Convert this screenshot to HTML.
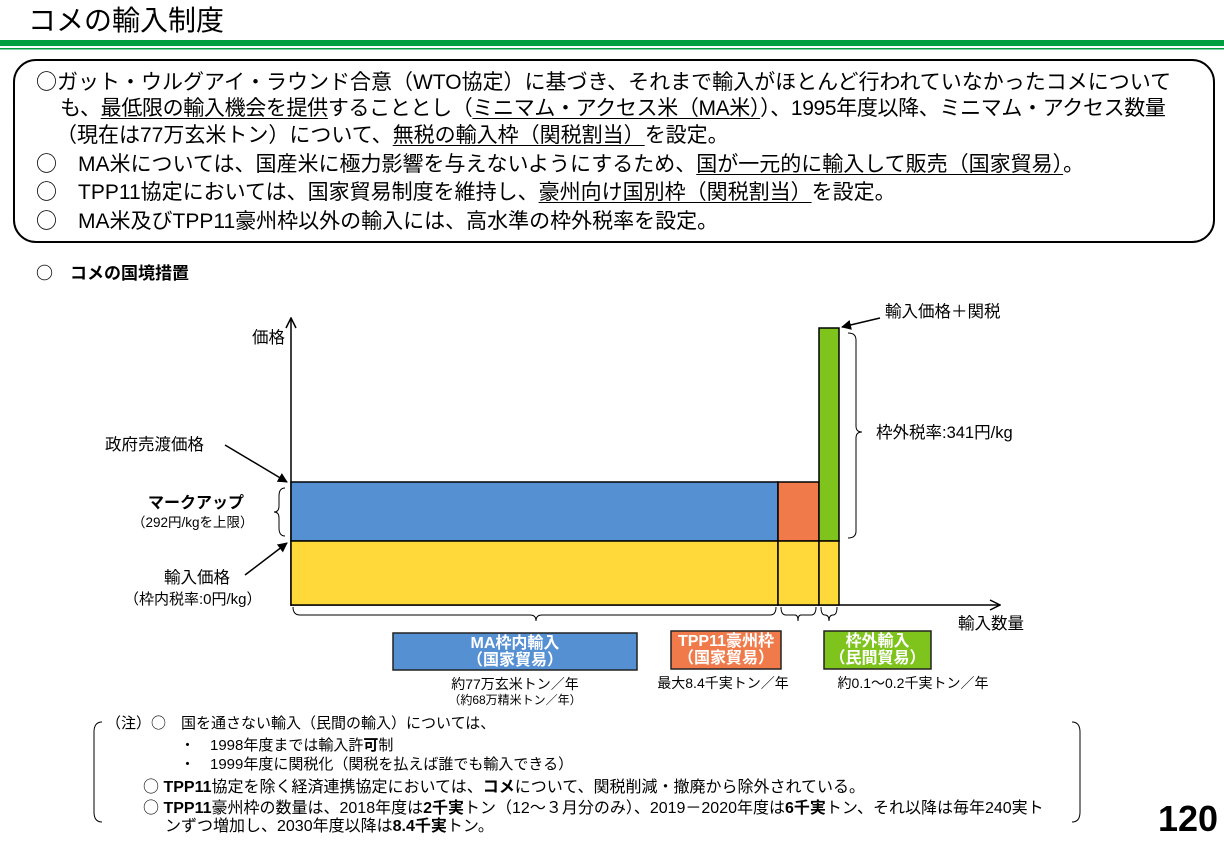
<!DOCTYPE html>
<html><head><meta charset="utf-8"><style>
body{margin:0;background:#fff;}
#p{position:relative;width:1224px;height:844px;overflow:hidden;font-family:"Liberation Sans","Noto Sans CJK JP",sans-serif;color:#000;}
.t{position:absolute;white-space:nowrap;line-height:1;}
.bx{font-size:21px;}
.c{font-family:"Noto Sans CJK JP",sans-serif;}
u{text-decoration:underline;text-underline-offset:3px;text-decoration-thickness:1px;}
.n{font-size:15px;}
.n2{font-size:16px;}
.lb{font-size:16.5px;}
.wb{color:#fff;font-weight:bold;font-size:16px;text-align:center;line-height:17px;}
</style></head><body><div id="p">
<svg width="1224" height="844" style="position:absolute;left:0;top:0">
<defs><marker id="a" markerWidth="10" markerHeight="10" refX="9" refY="5" orient="auto" markerUnits="userSpaceOnUse"><path d="M0,0 L10,5 L0,10 z" fill="#000"/></marker>
<marker id="o" markerWidth="12" markerHeight="12" refX="11" refY="6" orient="auto" markerUnits="userSpaceOnUse"><path d="M1,1 L11,6 L1,11" fill="none" stroke="#000" stroke-width="1.5"/></marker></defs>
<rect x="0" y="40" width="1224" height="6" fill="#00a040"/>
<rect x="0" y="48" width="1224" height="1.5" fill="#00a040"/>
<rect x="14" y="60" width="1200" height="182" rx="22" fill="none" stroke="#000" stroke-width="2"/>
<line x1="291" y1="606" x2="291" y2="318" stroke="#000" stroke-width="1.5" marker-end="url(#o)"/>
<line x1="291" y1="605" x2="1000" y2="605" stroke="#000" stroke-width="1.5" marker-end="url(#o)"/>
<rect x="291" y="482" width="487" height="59" fill="#5590d3" stroke="#000" stroke-width="1.5"/>
<rect x="778" y="482" width="41" height="59" fill="#f07a4a" stroke="#000" stroke-width="1.5"/>
<rect x="819" y="328" width="20" height="213" fill="#7ec41c" stroke="#000" stroke-width="1.5"/>
<rect x="291" y="541" width="487" height="64" fill="#ffd83a" stroke="#000" stroke-width="1.5"/>
<rect x="778" y="541" width="41" height="64" fill="#ffd83a" stroke="#000" stroke-width="1.5"/>
<rect x="819" y="541" width="20" height="64" fill="#ffd83a" stroke="#000" stroke-width="1.5"/>
<line x1="225" y1="445" x2="287" y2="482" stroke="#000" stroke-width="1.5" marker-end="url(#a)"/>
<line x1="245" y1="575" x2="287" y2="543" stroke="#000" stroke-width="1.5" marker-end="url(#a)"/>
<line x1="880" y1="318" x2="842" y2="327" stroke="#000" stroke-width="1.5" marker-end="url(#a)"/>
<path d="M285,488 Q279,488 279,496 L279,506 Q279,512 274,512 Q279,512 279,518 L279,528 Q279,536 285,536" fill="none" stroke="#000" stroke-width="1"/>
<path d="M848,333 Q856,333 856,340 L856,426 Q856,432 862,432 Q856,432 856,438 L856,531 Q856,538 848,538" fill="none" stroke="#000" stroke-width="1"/>
<path d="M293,607 Q293,615 300,615 L530,615 Q536,615 536,621 Q536,615 542,615 L770,615 Q776,615 776,607" fill="none" stroke="#000" stroke-width="1"/>
<path d="M781,607 Q781,615 786,615 L795,615 Q798,615 798,621 Q798,615 801,615 L811,615 Q816,615 816,607" fill="none" stroke="#000" stroke-width="1"/>
<path d="M821,607 Q821,615 825,615 Q829,615 829,621 Q829,615 833,615 Q837,615 837,607" fill="none" stroke="#000" stroke-width="1"/>
<rect x="393" y="633" width="244" height="37" fill="#5590d3" stroke="#222" stroke-width="1.5"/>
<rect x="671" y="631" width="110" height="38" fill="#f07a4a" stroke="#222" stroke-width="1.5"/>
<rect x="824" y="631" width="107" height="38" fill="#7ec41c" stroke="#222" stroke-width="1.5"/>
<path d="M102,722 Q94,722 94,732 L94,812 Q94,822 102,822" fill="none" stroke="#000" stroke-width="1"/>
<path d="M1072,722 Q1080,722 1080,732 L1080,812 Q1080,822 1072,822" fill="none" stroke="#000" stroke-width="1"/>
</svg>
<div class="t" style="left:28px;top:7px;font-size:28px;">コメの輸入制度</div>
<div class="t bx" style="left:36px;top:71px;"><span class="c">○</span>ガット・ウルグアイ・ラウンド合意（WTO協定）に基づき、それまで輸入がほとんど行われていなかったコメについて</div>
<div class="t bx" style="left:60px;top:98px;letter-spacing:-0.35px;">も、<u>最低限の輸入機会を提供</u>することとし（<u>ミニマム・アクセス米（MA米）</u>）、1995年度以降、ミニマム・アクセス数量</div>
<div class="t bx" style="left:56px;top:125px;">（現在は77万玄米トン）について、<u>無税の輸入枠（関税割当）</u>を設定。</div>
<div class="t bx" style="left:36px;top:153px;"><span class="c">○</span>　MA米については、国産米に極力影響を与えないようにするため、<u>国が一元的に輸入して販売（国家貿易）</u>。</div>
<div class="t bx" style="left:36px;top:181px;"><span class="c">○</span>　TPP11協定においては、国家貿易制度を維持し、<u>豪州向け国別枠（関税割当）</u>を設定。</div>
<div class="t bx" style="left:36px;top:210px;"><span class="c">○</span>　MA米及びTPP11豪州枠以外の輸入には、高水準の枠外税率を設定。</div>
<div class="t" style="left:36px;top:263px;font-size:17px;font-weight:bold;"><span class="c">○</span>　コメの国境措置</div>
<div class="t lb" style="left:252px;top:330px;">価格</div>
<div class="t lb" style="left:105px;top:437px;">政府売渡価格</div>
<div class="t" style="left:148px;top:496px;font-size:16px;font-weight:bold;">マークアップ</div>
<div class="t" style="left:132px;top:516px;font-size:13.5px;">（292円/kgを上限）</div>
<div class="t lb" style="left:164px;top:570px;">輸入価格</div>
<div class="t" style="left:124px;top:592px;font-size:15px;">（枠内税率:0円/kg）</div>
<div class="t lb" style="left:885px;top:304px;">輸入価格＋関税</div>
<div class="t lb" style="left:876px;top:425px;">枠外税率:341円/kg</div>
<div class="t lb" style="left:958px;top:616px;">輸入数量</div>
<div class="t wb" style="left:393px;top:635px;width:244px;">MA枠内輸入<br>（国家貿易）</div>
<div class="t wb" style="left:671px;top:633px;width:110px;">TPP11豪州枠<br>（国家貿易）</div>
<div class="t wb" style="left:824px;top:633px;width:107px;">枠外輸入<br>（民間貿易）</div>
<div class="t" style="left:405px;top:677px;width:220px;text-align:center;font-size:14px;">約77万玄米トン／年</div>
<div class="t" style="left:415px;top:694px;width:200px;text-align:center;font-size:12px;">（約68万精米トン／年）</div>
<div class="t" style="left:643px;top:676px;width:160px;text-align:center;font-size:14px;">最大8.4千実トン／年</div>
<div class="t" style="left:823px;top:676px;width:180px;text-align:center;font-size:14px;">約0.1～0.2千実トン／年</div>
<div class="t n" style="left:106px;top:715px;">（注）<span class="c">○</span>　国を通さない輸入（民間の輸入）については、</div>
<div class="t n" style="left:180px;top:738px;">・　1998年度までは輸入許<b>可</b>制</div>
<div class="t n" style="left:180px;top:757px;">・　1999年度に関税化（関税を払えば誰でも輸入できる）</div>
<div class="t n2" style="left:143px;top:777px;"><span class="c">○</span> <b>TPP11</b>協定を除く経済連携協定においては、<b>コメ</b>について、関税削減・撤廃から除外されている。</div>
<div class="t n2" style="left:143px;top:798px;"><span class="c">○</span> <b>TPP11</b>豪州枠の数量は、2018年度は<b>2千実</b>トン（12～３月分のみ）、2019－2020年度は<b>6千実</b>トン、それ以降は毎年240実ト</div>
<div class="t n2" style="left:165px;top:819px;">ンずつ増加し、2030年度以降は<b>8.4千実</b>トン。</div>
<div class="t" style="left:1158px;top:801px;font-size:36px;font-weight:bold;">120</div>
</div></body></html>
